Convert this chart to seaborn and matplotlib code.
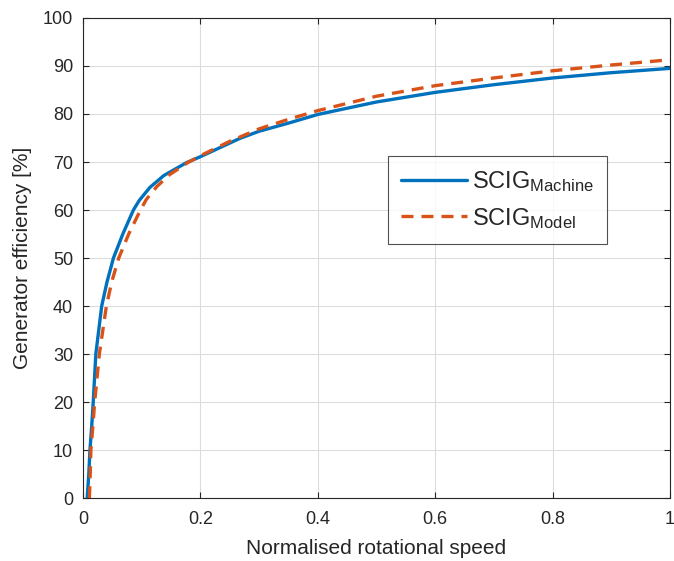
import numpy as np
import pandas as pd
import matplotlib
matplotlib.use("Agg")
import matplotlib.pyplot as plt
import seaborn as sns

# Datos
x_machine = [0.0073, 0.010, 0.012, 0.015, 0.0176, 0.022, 0.027, 0.032, 0.041, 0.052, 0.068,
             0.086, 0.096, 0.114, 0.138, 0.177, 0.2, 0.267, 0.3, 0.353, 0.4, 0.5, 0.6, 0.7, 0.8, 0.9, 1.0]
y_machine = [0, 5, 10, 15, 20, 30, 35, 40, 45, 50, 55,
             60, 62.0, 64.7, 67.2, 69.9, 71.1, 74.9, 76.4, 78.2, 79.9, 82.5, 84.5, 86.1, 87.5, 88.6, 89.5]

x_model = [0.011, 0.0125, 0.0136, 0.017, 0.020, 0.024, 0.028, 0.034, 0.040, 0.049, 0.061, 0.078,
           0.098, 0.108, 0.126, 0.148, 0.179, 0.2, 0.25, 0.3, 0.353, 0.4, 0.5, 0.6, 0.7, 0.8, 0.9, 1.0]
y_model = [0, 5, 10, 15, 20, 25, 30, 35, 40, 45, 50, 55,
           60, 62.2, 64.9, 67.4, 69.9, 71.3, 74.3, 76.9, 79.0, 80.7, 83.7, 85.9, 87.5, 89.0, 90.2, 91.3]

etiquetas = [r'SCIG$_{\mathrm{Machine}}$', r'SCIG$_{\mathrm{Model}}$']

sns.set_theme(style="white")
plt.rcParams['font.family'] = ['Liberation Sans', 'DejaVu Sans']
plt.rcParams['mathtext.fontset'] = 'custom'
plt.rcParams['mathtext.rm'] = 'Liberation Sans'
plt.rcParams['mathtext.it'] = 'Liberation Sans:italic'

df_machine = pd.DataFrame({'x': x_machine, 'y': y_machine})
df_model = pd.DataFrame({'x': x_model, 'y': y_model})

fig = plt.figure(figsize=(6.74, 5.61), dpi=100)
ax = fig.add_axes([0.123, 0.112, 0.871, 0.856])

sns.lineplot(data=df_machine, x='x', y='y', ax=ax, color='#0072BD', lw=2.4,
             label=etiquetas[0], sort=False)
sns.lineplot(data=df_model, x='x', y='y', ax=ax, color='#D95319', lw=2.4,
             linestyle=(0, (3.6, 2.4)), label=etiquetas[1], sort=False)

ax.set_xlim(0, 1)
ax.set_ylim(0, 100)
ax.set_xticks(np.arange(0, 1.01, 0.2))
ax.set_xticklabels(['0', '0.2', '0.4', '0.6', '0.8', '1'])
ax.set_yticks(np.arange(0, 101, 10))
ax.grid(True, color='#dcdcdc', lw=0.8)
ax.tick_params(direction='in', length=4, width=0.8, colors='#262626', labelsize=13,
               top=True, right=True, bottom=True, left=True)
ax.tick_params(axis='x', pad=9)
ax.tick_params(axis='y', pad=7)
for s in ax.spines.values():
    s.set_color('#262626')
    s.set_linewidth(0.8)

ax.set_xlabel('Normalised rotational speed', fontsize=15, color='#262626', labelpad=8)
ax.set_ylabel('Generator efficiency [%]', fontsize=15, color='#262626', labelpad=8)

leg = ax.legend(loc='upper left', bbox_to_anchor=(0.52, 0.7125), fontsize=17,
                frameon=True, fancybox=False, handlelength=2.8, borderpad=0.55,
                labelspacing=0.5, handletextpad=0.2, borderaxespad=0)
leg.get_frame().set_edgecolor('#262626')
leg.get_frame().set_linewidth(0.8)

plt.savefig('out.png', dpi=100)
plt.close()
